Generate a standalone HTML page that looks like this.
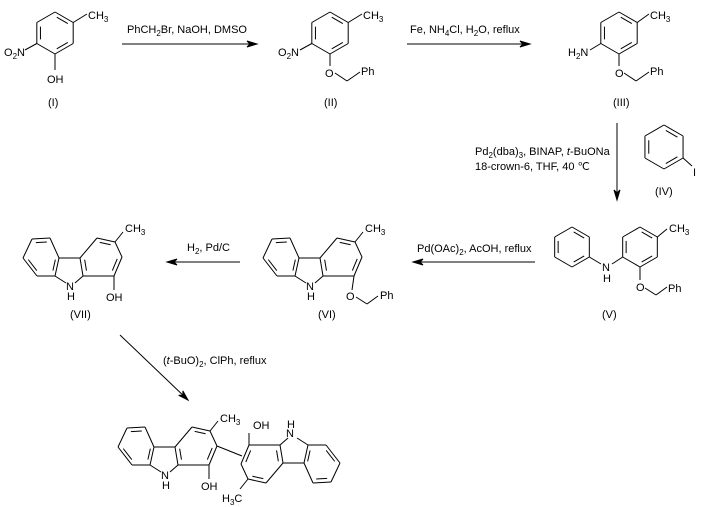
<!DOCTYPE html>
<html><head><meta charset="utf-8"><style>
html,body{margin:0;padding:0;background:#fff;}
svg{display:block;}
text{font-family:"Liberation Sans",Arial,sans-serif;font-size:11px;fill:#000;}
.s{font-size:8px;}
</style></head><body>
<svg id="sv" width="705" height="507" viewBox="0 0 705 507" xmlns="http://www.w3.org/2000/svg">
<g id="g" stroke="#000" stroke-width="1" fill="none"></g>
<g>
<text x="88" y="19">CH<tspan class="s" dy="3">3</tspan></text>
<text x="4" y="56">O<tspan class="s" dy="3">2</tspan><tspan dy="-3">N</tspan></text>
<text x="47" y="83">OH</text>
<text x="48" y="106">(I)</text>
<text x="127" y="33">PhCH<tspan class="s" dy="3">2</tspan><tspan dy="-3">Br, NaOH, DMSO</tspan></text>
<text x="363" y="19">CH<tspan class="s" dy="3">3</tspan></text>
<text x="278" y="56">O<tspan class="s" dy="3">2</tspan><tspan dy="-3">N</tspan></text>
<text x="325" y="77">O</text>
<text x="361" y="75">Ph</text>
<text x="324" y="106">(II)</text>
<text x="410" y="33">Fe, NH<tspan class="s" dy="3">4</tspan><tspan dy="-3">Cl, H</tspan><tspan class="s" dy="3">2</tspan><tspan dy="-3">O, reflux</tspan></text>
<text x="650" y="19">CH<tspan class="s" dy="3">3</tspan></text>
<text x="568" y="56">H<tspan class="s" dy="3">2</tspan><tspan dy="-3">N</tspan></text>
<text x="615" y="77">O</text>
<text x="650" y="75">Ph</text>
<text x="613" y="106">(III)</text>
<text x="475" y="155">Pd<tspan class="s" dy="3">2</tspan><tspan dy="-3">(dba)</tspan><tspan class="s" dy="3">3</tspan><tspan dy="-3">, BINAP, </tspan><tspan font-style="italic">t</tspan>-BuONa</text>
<text x="475" y="170">18-crown-6, THF, 40 ℃</text>
<text x="693" y="176">I</text>
<text x="655" y="195">(IV)</text>
<text x="669" y="232">CH<tspan class="s" dy="3">3</tspan></text>
<text x="602" y="271">N</text>
<text x="603" y="282">H</text>
<text x="636" y="291">O</text>
<text x="668" y="292">Ph</text>
<text x="602" y="318">(V)</text>
<text x="417" y="252">Pd(OAc)<tspan class="s" dy="3">2</tspan><tspan dy="-3">, AcOH, reflux</tspan></text>
<text x="365" y="232">CH<tspan class="s" dy="3">3</tspan></text>
<text x="306" y="290">N</text>
<text x="307" y="300">H</text>
<text x="346" y="300">O</text>
<text x="380" y="299">Ph</text>
<text x="318" y="318">(VI)</text>
<text x="187" y="251">H<tspan class="s" dy="3">2</tspan><tspan dy="-3">, Pd/C</tspan></text>
<text x="125" y="232">CH<tspan class="s" dy="3">3</tspan></text>
<text x="66" y="290">N</text>
<text x="67" y="300">H</text>
<text x="106" y="301">OH</text>
<text x="70" y="318">(VII)</text>
<text x="163" y="364">(<tspan font-style="italic">t</tspan>-BuO)<tspan class="s" dy="3">2</tspan><tspan dy="-3">, ClPh, reflux</tspan></text>
<text x="220" y="422">CH<tspan class="s" dy="3">3</tspan></text>
<text x="161" y="479">N</text>
<text x="162" y="489">H</text>
<text x="201" y="490">OH</text>
<text x="253" y="429">OH</text>
<text x="286" y="437">N</text>
<text x="287" y="428">H</text>
<text x="222" y="502">H<tspan class="s" dy="3">3</tspan><tspan dy="-3">C</tspan></text>
</g>
</svg>
<script>
var g=document.getElementById('g'),NS='http://www.w3.org/2000/svg';
function L(a,b,c,d){var l=document.createElementNS(NS,'line');l.setAttribute('x1',a);l.setAttribute('y1',b);l.setAttribute('x2',c);l.setAttribute('y2',d);g.appendChild(l);}
function P(pts){for(var i=0;i<pts.length-1;i++)L(pts[i][0],pts[i][1],pts[i+1][0],pts[i+1][1]);}
function ring(p,dbl){var n=p.length,cx=0,cy=0;p.forEach(function(q){cx+=q[0];cy+=q[1]});cx/=n;cy/=n;
 for(var i=0;i<n;i++){var a=p[i],b=p[(i+1)%n];L(a[0],a[1],b[0],b[1]);}
 dbl.forEach(function(i){var a=p[i],b=p[(i+1)%n];var f=0.2;
  var a2=[a[0]+(cx-a[0])*f,a[1]+(cy-a[1])*f],b2=[b[0]+(cx-b[0])*f,b[1]+(cy-b[1])*f];
  var t=0.12;L(a2[0]+(b2[0]-a2[0])*t,a2[1]+(b2[1]-a2[1])*t,b2[0]-(b2[0]-a2[0])*t,b2[1]-(b2[1]-a2[1])*t);});}
function hex(cx,cy,r){var p=[];for(var k=0;k<6;k++){var an=(-90+60*k)*Math.PI/180;p.push([cx+r*Math.cos(an),cy+r*Math.sin(an)]);}return p;}
function arrow(x1,y1,x2,y2){L(x1,y1,x2,y2);var dx=x2-x1,dy=y2-y1,l=Math.hypot(dx,dy),ux=dx/l,uy=dy/l;
 var pg=document.createElementNS(NS,'polygon');var bx=x2-ux*10,by=y2-uy*10;
 pg.setAttribute('points',x2+','+y2+' '+(bx-uy*3)+','+(by+ux*3)+' '+(x2-ux*7)+','+(y2-uy*7)+' '+(bx+uy*3)+','+(by-ux*3));
 pg.setAttribute('fill','#000');g.appendChild(pg);}
function benz(cx,cy){var p=hex(cx,cy,21);ring(p,[0,2,4]);return p;}
var p=benz(55,33);L(p[1][0],p[1][1],87,14);L(p[4][0],p[4][1],25,50);L(p[3][0],p[3][1],55,70);
p=benz(330,33);L(p[1][0],p[1][1],362,14);L(p[4][0],p[4][1],300,50);L(p[3][0],p[3][1],330,66);P([[335,73],[347,81],[360,72]]);
p=benz(619,33);L(p[1][0],p[1][1],649,14);L(p[4][0],p[4][1],590,50);L(p[3][0],p[3][1],619,66);P([[624,73],[636,81],[649,72]]);
p=hex(664,147,22);ring(p,[0,2,4]);L(p[2][0],p[2][1],692,166);
p=hex(572,247,20);ring(p,[0,2,4]);L(p[2][0],p[2][1],601,264);
p=hex(640,247,20);ring(p,[0,2,4]);L(p[4][0],p[4][1],612,264);L(p[1][0],p[1][1],667,229);L(p[3][0],p[3][1],640,280);P([[645,288],[656,295],[667,287]]);
var A=[[32,239],[50,238],[59,258],[55,276],[37,276],[23,258]];
var B=[[80,258],[97,238],[115,242],[122,257],[114,276],[83,276]];
function carb(ox,oy,rot,M){function T(q){var x=q[0]+ox,y=q[1]+oy;if(rot){x=2*M[0]-x;y=2*M[1]-y;}return [x,y];}
 ring(A.map(T),[0,2,4]);ring(B.map(T),[1,3,5]);
 var s=[[[59,258],[80,258]],[[55,276],[66,283]],[[83,276],[75,283]]];
 s.forEach(function(e){var a=T(e[0]),b=T(e[1]);L(a[0],a[1],b[0],b[1]);});return T;}
var T=carb(0,0);L(115,242,123,232);L(114,276,114,290);
T=carb(240,0);L(355,242,363,232);L(354,276,352,290);P([[356,297],[367,304],[378,296]]);
T=carb(95,189);L(210,431,218,421);L(209,465,209,479);L(217,446,242,456);
var M=[229,455];T=carb(95,189,true,M);
var a=T([115,242]);L(a[0],a[1],a[0]-8,a[1]+10);a=T([114,276]);L(a[0],a[1],a[0],a[1]-12);
arrow(122,44,257,44);arrow(407,44,530,44);arrow(617,123,617,200);arrow(535,262,413,262);arrow(240,262,167,262);arrow(120,335,188,400);
</script>
</body></html>
